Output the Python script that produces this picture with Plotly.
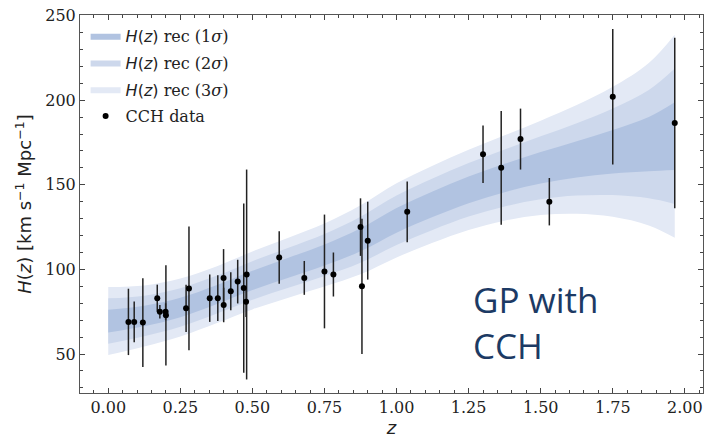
import plotly.graph_objects as go

# ---- CCH data ----
z_cch = [0.07, 0.09, 0.12, 0.17, 0.179, 0.199, 0.2, 0.27, 0.28, 0.352, 0.38, 0.4, 0.4004,
         0.425, 0.449, 0.47, 0.478, 0.48, 0.593, 0.68, 0.75, 0.781, 0.875, 0.88, 0.9,
         1.037, 1.3, 1.363, 1.43, 1.53, 1.75, 1.965]
H_cch = [69, 69, 68.6, 83, 75, 75, 72.9, 77, 88.8, 83, 83, 95, 79,
         87.1, 92.8, 89, 80.9, 97, 107, 95, 98.8, 97, 125, 90, 117,
         134, 168, 160, 177, 140, 202, 186.5]
err_cch = [19.6, 12, 26.2, 8, 4, 5, 29.6, 14, 36.6, 14, 13.5, 17, 10.2,
           11.2, 12.9, 50, 9, 62, 15.5, 10, 33.6, 13, 17, 40, 23,
           18, 17, 33.6, 18, 14, 40, 50.4]

# ---- GP reconstruction (mean and sigma) ----
z_rec = [0, 0.125, 0.25, 0.375, 0.5, 0.625, 0.75, 0.875, 1.0, 1.125, 1.25, 1.375,
         1.5, 1.625, 1.75, 1.875, 1.965]
H_mean = [69.5, 72.5, 77.5, 85, 93.5, 101, 108.5, 117.5, 129, 138.5, 147, 154,
          160, 165, 169.5, 174, 178.7]
H_sig = [6.7, 6.0, 5.7, 5.6, 5.7, 5.9, 6.2, 6.8, 7.3, 7.6, 7.9, 8.4,
         9.3, 10.7, 12.8, 16, 20]

x_ticks = [0.0, 0.25, 0.5, 0.75, 1.0, 1.25, 1.5, 1.75, 2.0]
x_ticklabels = ["0.00", "0.25", "0.50", "0.75", "1.00", "1.25", "1.50", "1.75", "2.00"]
y_ticks = [50, 100, 150, 200, 250]

band_colors = {1: "rgb(177,195,225)", 2: "rgb(205,216,236)", 3: "rgb(227,233,245)"}

SERIF = "DejaVu Serif"
SANS = "DejaVu Sans"

def lbl(k):
    return (f"<span style='font-family:{SANS}'><i>H</i>(<i>z</i>)</span> rec "
            f"({k}<i>σ</i>)")

fig = go.Figure()
for k in (3, 2, 1):
    lower = [m - k * s for m, s in zip(H_mean, H_sig)]
    upper = [m + k * s for m, s in zip(H_mean, H_sig)]
    fig.add_trace(go.Scatter(x=z_rec, y=lower, mode="lines", line=dict(width=0, shape="spline"),
                             showlegend=False, hoverinfo="skip"))
    fig.add_trace(go.Scatter(x=z_rec, y=upper, mode="lines", line=dict(width=0, shape="spline"),
                             fill="tonexty", fillcolor=band_colors[k],
                             name=lbl(k), legendgroup=f"g{k}", legendrank=k))

fig.add_trace(go.Scatter(
    x=z_cch, y=H_cch, mode="markers", name="CCH data", legendgroup="gd", legendrank=4,
    marker=dict(color="black", size=6),
    error_y=dict(type="data", array=err_cch, color="#222222", thickness=1.5, width=0),
))

fig.add_annotation(
    x=0.627, y=0.314, xref="paper", yref="paper", xanchor="left", yanchor="top",
    text="GP with<br>CCH", showarrow=False, align="left",
    font=dict(family="Open Sans", size=35, color="#1c3a64"),
)

axis_common = dict(
    showline=True, linecolor="#555555", linewidth=1, mirror="allticks",
    ticks="inside", ticklen=5, tickcolor="#444444", showgrid=False, zeroline=False,
    automargin=False,
    tickfont=dict(family=SERIF, size=16, color="#222222"),
)

fig.update_xaxes(
    range=[-0.098, 2.063], tickvals=x_ticks, ticktext=x_ticklabels,
    minor=dict(dtick=0.05, tick0=0, ticks="inside", ticklen=3, tickcolor="#444444"),
    title=dict(text="<i>z</i>", font=dict(family=SANS, size=18, color="#222222"), standoff=0),
    **axis_common,
)
fig.update_yaxes(
    range=[27, 250.3], tickvals=y_ticks,
    minor=dict(dtick=10, tick0=0, ticks="inside", ticklen=3, tickcolor="#444444"),
    title=dict(text="<i>H</i>(<i>z</i>) [km s<sup>−1</sup> Mpc<sup>−1</sup>]",
               font=dict(family=SANS, size=18, color="#222222"), standoff=8),
    **axis_common,
)

fig.update_layout(
    width=704, height=439,
    margin=dict(l=80, r=1, t=15, b=46),
    paper_bgcolor="white", plot_bgcolor="white",
    showlegend=True,
    legend=dict(x=0.009, y=0.99, xanchor="left", yanchor="top",
                bgcolor="rgba(255,255,255,0)", borderwidth=0,
                traceorder="grouped", tracegroupgap=3,
                font=dict(family=SERIF, size=16, color="#222222")),
)

fig.write_html("out.html", config={"displayModeBar": False},
               post_script="document.body.style.margin='0';")
